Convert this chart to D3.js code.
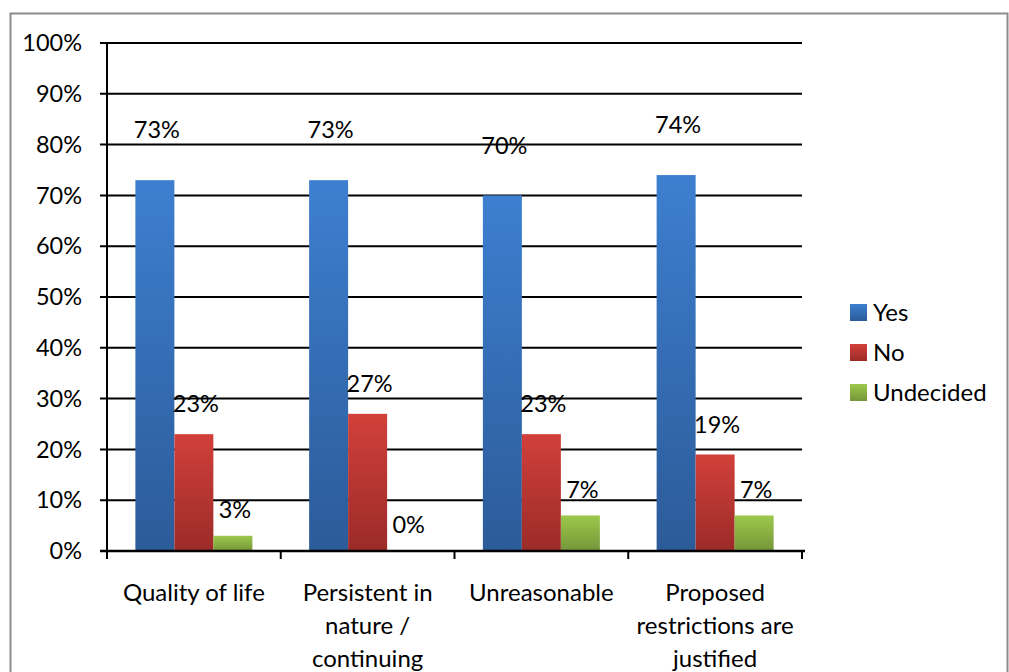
<!DOCTYPE html>
<html><head><meta charset="utf-8">
<script src="https://cdn.jsdelivr.net/npm/d3@7"></script>
<style>
html,body{margin:0;padding:0;background:#fff;}
svg{display:block;font-family:Lato,"Open Sans",sans-serif;}
</style></head>
<body>
<svg id="chart" width="1009" height="672"></svg>
<script>
const categories = [["Quality of life"], ["Persistent in", "nature /", "continuing"], ["Unreasonable"], ["Proposed", "restrictions are", "justified"]];
const seriesNames = ["Yes", "No", "Undecided"];
const yesValues = [73, 73, 70, 74];
const noValues = [23, 27, 23, 19];
const undecidedValues = [3, 0, 7, 7];
const yTicks = [0, 10, 20, 30, 40, 50, 60, 70, 80, 90, 100];

const seriesValues = [yesValues, noValues, undecidedValues];
const colors = [
  {top: "#3d7fd0", bot: "#2c5b98"},
  {top: "#d2403b", bot: "#9b2b28"},
  {top: "#9cc84b", bot: "#76963a"}
];
const labelLift = [50, 30, 26];

const svg = d3.select("#chart");
const defs = svg.append("defs");
colors.forEach((c, i) => {
  const g = defs.append("linearGradient").attr("id", "g" + i).attr("x1", 0).attr("y1", 0).attr("x2", 0).attr("y2", 1);
  g.append("stop").attr("offset", "0%").attr("stop-color", c.top);
  g.append("stop").attr("offset", "100%").attr("stop-color", c.bot);
});

// outer border
svg.append("rect").attr("x", 10.5).attr("y", 13.5).attr("width", 997).attr("height", 700)
  .attr("fill", "none").attr("stroke", "#8c8c8c").attr("stroke-width", 2);

const x0 = 107, x1 = 802, yB = 551, yT = 43;
const x = d3.scaleBand().domain(d3.range(categories.length)).range([x0, x1]).paddingInner(0).paddingOuter(0);
const y = d3.scaleLinear().domain([0, 100]).range([yB, yT]);
const bw = 39;
const xs = d3.scaleBand().domain(d3.range(3)).range([0, 3 * bw]);
const groupOff = (x.bandwidth() - 3 * bw) / 2;
const fs = 23.5;

// gridlines
svg.append("g").selectAll("line").data(yTicks).join("line")
  .attr("x1", x0 - 7).attr("x2", x1).attr("y1", d => y(d)).attr("y2", d => y(d))
  .attr("stroke", "#000").attr("stroke-width", 2);

// y labels
svg.append("g").selectAll("text").data(yTicks).join("text")
  .attr("x", 82).attr("y", d => y(d)).attr("dy", "0.35em").attr("text-anchor", "end")
  .attr("font-size", fs).attr("fill", "#000").text(d => d + "%");

// bars
seriesValues.forEach((vals, s) => {
  svg.append("g").selectAll("rect").data(vals).join("rect")
    .attr("x", (d, i) => x(i) + groupOff + xs(s))
    .attr("width", xs.bandwidth())
    .attr("y", d => y(d)).attr("height", d => yB - y(d))
    .attr("fill", `url(#g${s})`);
  svg.append("g").selectAll("text").data(vals).join("text")
    .attr("x", (d, i) => x(i) + groupOff + xs(s) + xs.bandwidth() / 2 + 2)
    .attr("y", d => y(d) - labelLift[s]).attr("dy", "0.35em").attr("text-anchor", "middle")
    .attr("font-size", fs).attr("fill", "#000").text(d => d + "%");
});

// axes
svg.append("line").attr("x1", x0).attr("x2", x0).attr("y1", yT).attr("y2", yB + 1).attr("stroke", "#000").attr("stroke-width", 2);
svg.append("line").attr("x1", x0 - 7).attr("x2", x1 + 3).attr("y1", yB).attr("y2", yB).attr("stroke", "#000").attr("stroke-width", 2.5);
svg.append("g").selectAll("line").data(d3.range(categories.length + 1)).join("line")
  .attr("x1", i => x0 + i * x.bandwidth()).attr("x2", i => x0 + i * x.bandwidth())
  .attr("y1", yB).attr("y2", yB + 8).attr("stroke", "#000").attr("stroke-width", 2);

// category labels
categories.forEach((lines, i) => {
  const t = svg.append("text").attr("text-anchor", "middle").attr("font-size", 24).attr("fill", "#000");
  lines.forEach((ln, j) => {
    t.append("tspan").attr("x", x(i) + x.bandwidth() / 2).attr("y", 593 + j * 33).attr("dy", "0.35em").text(ln);
  });
});

// legend
const lg = svg.append("g").attr("transform", "translate(850,304)");
seriesNames.forEach((n, i) => {
  lg.append("rect").attr("x", 0).attr("y", i * 40).attr("width", 17).attr("height", 17).attr("fill", `url(#g${i})`);
  lg.append("text").attr("x", 23).attr("y", i * 40 + 8.5).attr("dy", "0.35em").attr("font-size", 24).attr("fill", "#000").text(n);
});
</script>
</body></html>
